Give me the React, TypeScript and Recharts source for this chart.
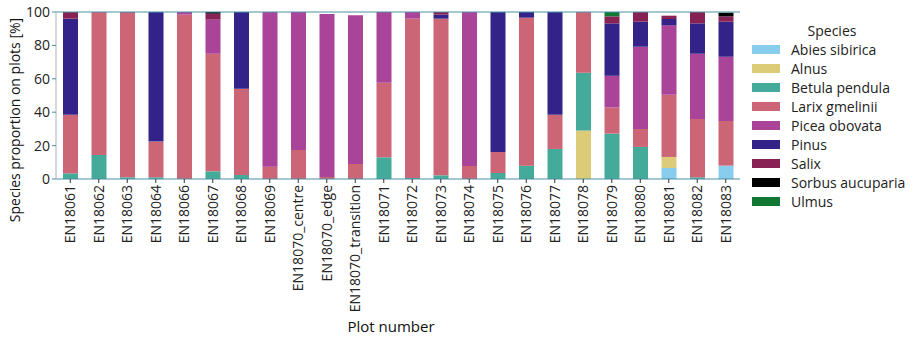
import { Bar, BarChart, Label, ReferenceLine, XAxis, YAxis } from "recharts";

const PLOTS = [
  "EN18061", "EN18062", "EN18063", "EN18064", "EN18066", "EN18067", "EN18068",
  "EN18069", "EN18070_centre", "EN18070_edge", "EN18070_transition", "EN18071",
  "EN18072", "EN18073", "EN18074", "EN18075", "EN18076", "EN18077", "EN18078",
  "EN18079", "EN18080", "EN18081", "EN18082", "EN18083",
];

const SPECIES = [
  "Abies sibirica", "Alnus", "Betula pendula", "Larix gmelinii", "Picea obovata",
  "Pinus", "Salix", "Sorbus aucuparia", "Ulmus",
];

const COLORS = ["#88ccee", "#ddcc77", "#44aa99", "#cc6677", "#aa4499", "#332288", "#882255", "#000000", "#117733"];

// proportions in %, one entry per plot
const abies = [0, 0, 0, 0, 0, 0, 0, 0, 0, 0, 0, 0, 0, 0, 0, 0, 0, 0, 0, 0, 0, 6.6, 0, 8];
const alnus = [0, 0, 0, 0, 0, 0, 0, 0, 0, 0, 0, 0, 0, 0, 0, 0, 0, 0, 29, 0, 0, 6.6, 0, 0];
const betula = [3.4, 14.4, 1, 1, 0, 4.6, 2.4, 0, 0, 0, 0, 13, 0.6, 2.2, 0, 3.6, 8, 18, 34.6, 27.2, 19.2, 0, 1, 0];
const larix = [35, 85.6, 98.6, 21.4, 98.4, 70.4, 51.6, 7.4, 17.4, 1.2, 9, 44.6, 95.4, 93.8, 7.8, 12.6, 88.6, 20.4, 36.4, 15.6, 10.8, 37.2, 35, 26.8];
const picea = [0, 0, 0, 0, 1.6, 20.4, 0, 92.6, 82.6, 97.6, 89, 42.4, 4, 0, 92.2, 0, 0, 0, 0, 19, 49.2, 41.6, 39, 38.4];
const pinus = [57.6, 0, 0, 77.6, 0, 0, 46, 0, 0, 0, 0, 0, 0, 2.4, 0, 83.8, 3.4, 61.6, 0, 31.4, 15, 3.8, 18.2, 21];
const salix = [4, 0, 0.4, 0, 0, 3.6, 0, 0, 0, 0, 0, 0, 0, 1.6, 0, 0, 0, 0, 0, 4.2, 5.8, 2, 6.8, 3.2];
const sorbus = [0, 0, 0, 0, 0, 1, 0, 0, 0, 0, 0, 0, 0, 0, 0, 0, 0, 0, 0, 0, 0, 0, 0, 2.2];
const ulmus = [0, 0, 0, 0, 0, 0, 0, 0, 0, 0, 0, 0, 0, 0, 0, 0, 0, 0, 0, 2.6, 0, 0, 0, 0];

const Y_TICKS = [0, 20, 40, 60, 80, 100];

const SERIES = [abies, alnus, betula, larix, picea, pinus, salix, sorbus, ulmus];

const data = PLOTS.map((plot, i) => {
  const row: Record<string, string | number> = { plot };
  SPECIES.forEach((name, s) => {
    row[name] = SERIES[s][i];
  });
  return row;
});

const FONT = "'Open Sans', 'DejaVu Sans', sans-serif";
const SPINE = "#4a8fa3";

function PlotTick({ x, y, payload }: any) {
  return (
    <text
      transform={`translate(${x},${y}) rotate(-90)`}
      textAnchor="end"
      dy="0.35em"
      fontSize={14}
      fill="#222"
      fontFamily={FONT}
    >
      {payload.value}
    </text>
  );
}

function SpeciesLegend() {
  return (
    <div
      style={{
        position: "absolute",
        left: 752,
        top: 21,
        width: 166,
        fontFamily: FONT,
        fontSize: 14,
        color: "#222",
      }}
    >
      <div style={{ textAlign: "center", width: 160, lineHeight: "19px" }}>Species</div>
      {SPECIES.map((name, i) => (
        <div key={name} style={{ display: "flex", alignItems: "center", height: 19 }}>
          <span style={{ width: 28, height: 9, background: COLORS[i], marginRight: 11, display: "inline-block" }} />
          <span>{name}</span>
        </div>
      ))}
    </div>
  );
}

export default function App() {
  return (
    <div style={{ position: "absolute", left: 0, top: 0, width: 918, height: 351, background: "#fff" }}>
      <BarChart
        width={918}
        height={351}
        data={data}
        margin={{ top: 12, right: 178, left: 0, bottom: 0 }}
        style={{ fontFamily: FONT }}
      >
        <XAxis
          dataKey="plot"
          interval={0}
          height={172}
          tick={<PlotTick />}
          tickSize={4}
          tickMargin={2}
          stroke={SPINE}
          tickLine={{ stroke: "#333" }}
        >
          <Label
            content={() => (
              <text x={391} y={332} textAnchor="middle" fontSize={15} fill="#111" fontFamily={FONT}>
                Plot number
              </text>
            )}
          />
        </XAxis>
        <YAxis
          domain={[0, 100]}
          ticks={Y_TICKS}
          allowDataOverflow
          width={56}
          tickSize={4}
          tickMargin={2}
          stroke="#b0b0b0"
          tickLine={{ stroke: SPINE }}
          tick={{ fill: "#222", fontSize: 14 }}
        >
          <Label
            content={() => (
              <text
                transform="translate(15,120) rotate(-90)"
                textAnchor="middle"
                dy="0.35em"
                fontSize={14}
                fill="#111"
                fontFamily={FONT}
              >
                Species proportion on plots [%]
              </text>
            )}
          />
        </YAxis>
        <YAxis yAxisId="right" orientation="right" width={0} tick={false} stroke="#555" domain={[0, 100]} />
        {SPECIES.map((name, i) => (
          <Bar key={name} dataKey={name} stackId="a" fill={COLORS[i]} barSize={15} isAnimationActive={false} />
        ))}
        <ReferenceLine y={100} stroke={SPINE} strokeWidth={1} />
      </BarChart>
      <SpeciesLegend />
    </div>
  );
}
